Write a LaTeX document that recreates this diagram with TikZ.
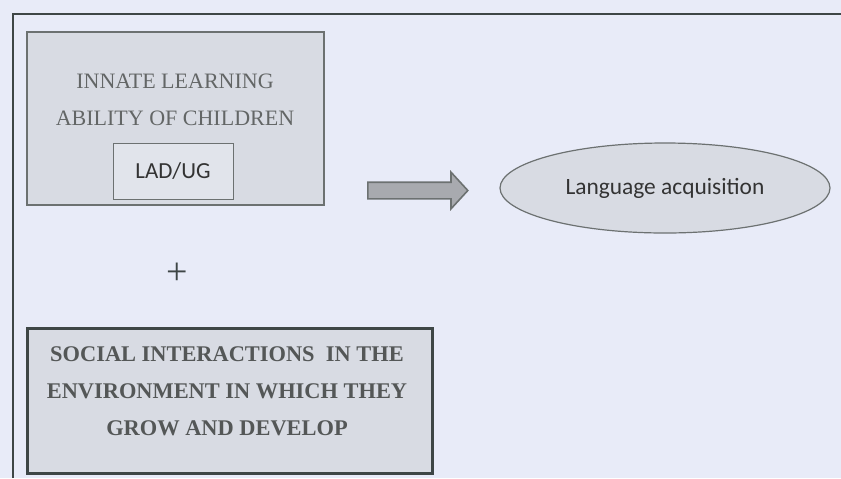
\documentclass[tikz,border=0pt]{standalone}
\usepackage{fontspec}
\setmainfont{Liberation Serif}
\newfontfamily\calfont{Carlito}
\usetikzlibrary{shapes.geometric, shapes.arrows, positioning}
\definecolor{laBack}{HTML}{E8EBF8}
\definecolor{laBox}{HTML}{D8DBE3}
\definecolor{laInner}{HTML}{E1E4EB}
\definecolor{laEdge}{HTML}{6C7171}
\definecolor{laDark}{HTML}{3E4646}
\definecolor{laText}{HTML}{636666}
\definecolor{laArrow}{HTML}{A8AAAF}
\tikzset{
  % one unit is one pixel of the reference, y runs downwards
  every picture/.append style = {x=0.5pt, y=-0.5pt},
  outerbox/.style  = {draw=laEdge, fill=laBox, line width=1pt, inner sep=0,
                      minimum width=148.5pt, minimum height=86.5pt},
  socialbox/.style = {draw=laDark, fill=laBox, line width=1.5pt, inner sep=0,
                      minimum width=202.5pt, minimum height=72.5pt},
  ladbox/.style    = {draw=laEdge, fill=laInner, line width=0.5pt, inner sep=0,
                      minimum width=60pt, minimum height=28pt,
                      font=\calfont\fontsize{11.5}{14}\selectfont, text=black!80},
  goal/.style      = {ellipse, draw=laEdge, fill=laBox, line width=0.6pt, inner sep=0,
                      minimum width=165pt, minimum height=45pt,
                      font=\calfont\fontsize{11.7}{14}\selectfont, text=black!80},
  blockarrow/.style= {single arrow, draw=laEdge, fill=laArrow, line width=0.8pt,
                      inner xsep=0, inner ysep=3.75pt, minimum height=50pt,
                      single arrow head extend=5pt, single arrow tip angle=95},
  lbl/.style       = {align=center, text=laText, font=\fontsize{11}{18.5}\selectfont},
  boldlbl/.style   = {lbl, text=laText!85!black, font=\bfseries\fontsize{11.2}{18.5}\selectfont},
}
\begin{document}
\begin{tikzpicture}
  \useasboundingbox (0,0) rectangle (841,478);
  \fill[laBack] (0,0) rectangle (841,478);
  % --- frame, open to the right and below ---------------------------------
  \draw[laDark, line width=1pt] (13,478) -- (13,14) -- (841,14);
  % --- innate ability ------------------------------------------------------
  \node[outerbox] (innate) at (175.5,118) {};
  \node[lbl] (innatetxt) at (175,100) {INNATE LEARNING\\ABILITY OF CHILDREN};
  \node[ladbox] (lad) at (173,171) {LAD/UG};
  % --- plus ---------------------------------------------------------------
  \node[text=laDark, font=\fontsize{19}{19}\selectfont] (plus) at (177,274) {+};
  % --- social interactions -------------------------------------------------
  \node[socialbox] (social) at (229.5,400.5) {};
  \node[boldlbl] (socialtxt) at (227,391)
    {SOCIAL INTERACTIONS\ \ IN THE\\ENVIRONMENT IN WHICH THEY\\GROW AND DEVELOP};
  % --- result -------------------------------------------------------------
  \node[blockarrow] (leads) at (414,190.5) {};
  \node[goal] (acq) at (665,188) {Language acquisition};
\end{tikzpicture}
\end{document}
